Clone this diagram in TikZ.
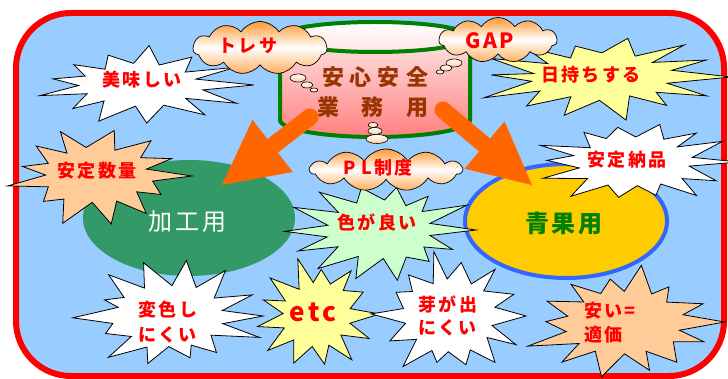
\documentclass[tikz,border=0pt]{standalone}
\usepackage{fontspec}
\setmainfont{Noto Sans CJK JP}[LetterSpace=12]
\newfontfamily\cylf{Noto Sans CJK JP}
\usetikzlibrary{shapes.symbols,calc}
\definecolor{bgblue}{HTML}{99CCFF}
\definecolor{peach}{HTML}{FFCC99}
\definecolor{lyellow}{HTML}{FFFF99}
\definecolor{lgreen}{HTML}{CCFFCC}
\definecolor{kakou}{HTML}{339966}
\definecolor{gold}{HTML}{FFCC00}
\definecolor{ringblue}{HTML}{3366FF}
\definecolor{cylgreen}{HTML}{008000}
\definecolor{brownt}{HTML}{993300}
\definecolor{arroworange}{HTML}{FF6600}
\definecolor{cloudorange}{HTML}{FF9933}
\definecolor{cyltop}{HTML}{FFE4E4}
\definecolor{cylbot}{HTML}{FF8080}
\newcommand\jf[1]{\fontsize{#1}{#1}\selectfont}
% #1 cx #2 cy #3 rx #4 ry #5 points #6 inner #7 fill #8 seed
\newcommand\burst[8]{%
  \pgfmathsetseed{#8}%
  \pgfmathtruncatemacro\bn{2*#5-1}%
  \draw[burstline,fill=#7] ({#1+#3*0.95},{#2})
    \foreach \k [evaluate=\k as \rr using {((\k-2*floor(\k/2))==0) ? 0.72+0.28*rnd : #6+0.07*rnd},
                 evaluate=\k as \aa using {(\k+0.6*rnd-0.3)*180/#5}] in {1,...,\bn}
    { -- ({#1+#3*\rr*cos(\aa)},{#2+#4*\rr*sin(\aa)}) } -- cycle;
}
\tikzset{
  burstline/.style={draw=black, line width=0.8pt},
  btext/.style={text=red, font=\bfseries\jf{18}, inner sep=0pt, align=left},
  thought/.style={cloud, cloud puffs=11, cloud puff arc=115, cloud ignores aspect,
    draw=black, line width=0.7pt, top color=cloudorange, bottom color=cloudorange!80,
    middle color=white, inner sep=0pt},
  bubble/.style={draw=black, line width=0.6pt, top color=white, bottom color=cloudorange!50},
  shaft/.style={draw=arroworange, line width=17pt, line cap=round},
  head/.style={fill=arroworange},
}
\begin{document}
\begin{tikzpicture}[x=1pt,y=-1pt]
\useasboundingbox (0,0) rectangle (728,379);
\fill[white] (0,0) rectangle (728,379);
\draw[red, line width=6pt, fill=bgblue, rounded corners=55pt] (16,13) rectangle (724,376);

% ellipses
\fill[kakou] (189,218) ellipse[x radius=106, y radius=58];
\draw[ringblue, line width=4pt, fill=gold] (566,221) ellipse[x radius=101, y radius=57];

% cylinder
\fill[top color=cyltop, bottom color=cylbot] (280,37) -- (280,120)
  arc[start angle=180, end angle=0, x radius=95, y radius=17] -- (470,37) -- cycle;
\draw[cylgreen, line width=4pt] (280,37) -- (280,120)
  arc[start angle=180, end angle=0, x radius=95, y radius=17] -- (470,37);
\draw[cylgreen, line width=4pt, top color=white, bottom color=cyltop] (375,37) ellipse[x radius=95, y radius=15];
\node[text=brownt, font=\cylf\bfseries\jf{22}, inner sep=0pt] (anzen) at (375,77)
  {安\hspace{6pt}心\hspace{6pt}安\hspace{6pt}全};
\node[text=brownt, font=\cylf\bfseries\jf{22}, inner sep=0pt] (gyomu) at (373,107)
  {業\hspace{23pt}務\hspace{23pt}用};

% starbursts
\burst{140}{85}{120}{42}{13}{0.47}{white}{11}
\burst{600}{77}{138}{44}{14}{0.48}{lyellow}{23}
\burst{97}{176}{100}{51}{13}{0.5}{peach}{5}
\burst{634}{162}{110}{46}{14}{0.5}{white}{7}
\burst{381}{230}{100}{55}{14}{0.5}{lgreen}{31}
\burst{170}{316}{98}{57}{14}{0.53}{white}{17}
\burst{317}{314}{66}{58}{13}{0.5}{lyellow}{3}
\burst{450}{316}{80}{66}{14}{0.53}{white}{41}
\burst{624}{322}{106}{60}{14}{0.5}{peach}{19}

% arrows
\coordinate (ls) at (310,117);
\coordinate (lt) at (222,185);
\coordinate (rs) at (443,110);
\coordinate (rt) at (532,185);
\coordinate (lb) at ($(lt)!64pt!(ls)$);
\coordinate (rb) at ($(rt)!62pt!(rs)$);
\draw[shaft] (ls) -- (lb);
\draw[shaft] (rs) -- (rb);
\fill[head] (lt) -- ($(lb)!33pt!90:(lt)$) -- ($(lb)!33pt!-90:(lt)$) -- cycle;
\fill[head] (rt) -- ($(rb)!31pt!90:(rt)$) -- ($(rb)!31pt!-90:(rt)$) -- cycle;

% clouds
\node[thought, minimum width=134pt, minimum height=53pt] (tresa) at (260,48) {};
\node[thought, minimum width=118pt, minimum height=45pt] (gap) at (498,40) {};
\node[thought, minimum width=152pt, minimum height=42pt] (pl) at (386,170) {};
\path[bubble] (298,78) ellipse[x radius=8, y radius=4];
\path[bubble] (307,85) ellipse[x radius=6, y radius=3];
\path[bubble] (314,90) ellipse[x radius=4, y radius=2];
\path[bubble] (454,63) ellipse[x radius=8, y radius=4];
\path[bubble] (446,68) ellipse[x radius=6, y radius=3];
\path[bubble] (440,72) ellipse[x radius=4, y radius=2];
\path[bubble] (377,139) ellipse[x radius=11, y radius=4.5];
\path[bubble] (375,131) ellipse[x radius=7, y radius=3.5];
\path[bubble] (373,125) ellipse[x radius=5, y radius=2.5];

% texts
\node[btext] (tresaT) at (248,46) {トレサ};
\node[btext, font=\bfseries\jf{21}] (gapT) at (490,41) {GAP};
\node[btext] (plT) at (378,168) {P\hspace{6pt}L制度};
\node[btext] (oishii) at (142,80) {美味しい};
\node[btext] (suryo) at (97,171) {安定数量};
\node[btext] (himochi) at (591,75) {日持ちする};
\node[btext] (nohin) at (627,160) {安定納品};
\node[btext] (iro) at (377,222) {色が良い};
\node[btext, font=\bfseries\fontsize{18}{25}\selectfont] (henshoku) at (168,322) {変色し\\にくい};
\node[btext, font=\bfseries\jf{26}] (etc) at (313,312) {e\hspace{3pt}tc};
\node[btext, font=\bfseries\fontsize{18}{23}\selectfont] (me) at (448,316) {芽が出\\にくい};
\node[btext, font=\bfseries\fontsize{18}{24}\selectfont] (yasui) at (610,323) {安い=\\適価};
\node[text=white, font=\jf{24}, inner sep=0pt] (kakouT) at (187,222) {加\hspace{3pt}工\hspace{3pt}用};
\node[text=cylgreen, font=\bfseries\jf{24}, inner sep=0pt] (seika) at (564,223) {青果用};
\end{tikzpicture}
\end{document}
